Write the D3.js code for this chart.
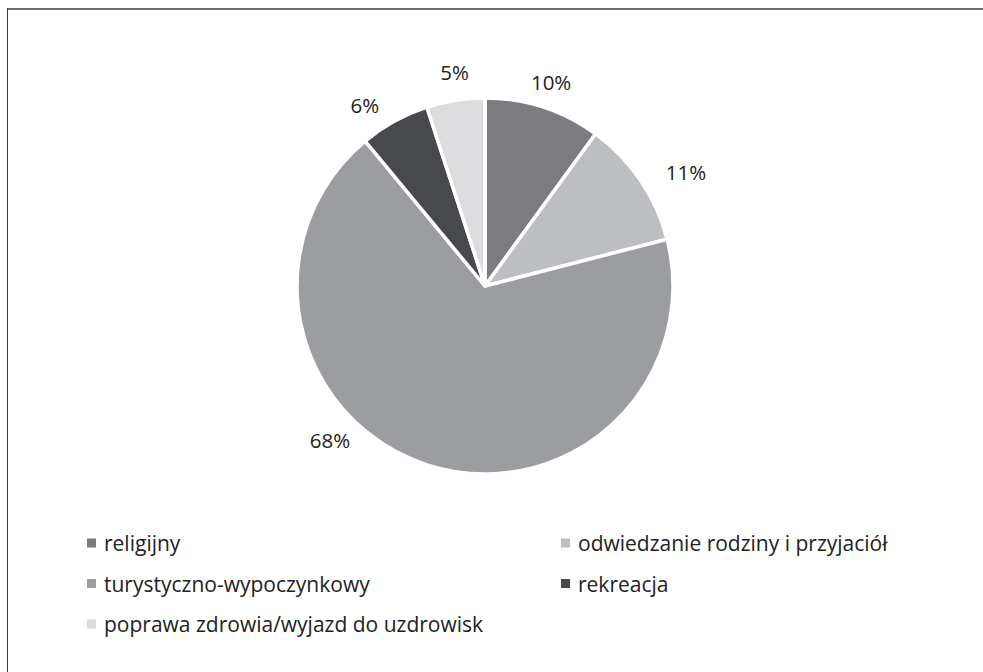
<!DOCTYPE html>
<html lang="pl">
<head>
<meta charset="UTF-8" />
<title>Cele wyjazdów</title>
<script src="https://d3js.org/d3.v7.min.js"></script>
<style>
	body { margin: 0; background: #fff; }
	svg { display: block; font-family: "Open Sans", sans-serif; }
</style>
</head>
<body>
<svg id="chart" width="983" height="672"></svg>
<script>
	// data
	const categories = [
		"religijny",
		"odwiedzanie rodziny i przyjaciół",
		"turystyczno-wypoczynkowy",
		"rekreacja",
		"poprawa zdrowia/wyjazd do uzdrowisk",
	];
	const values = [10, 11, 68, 6, 5];
	const colors = ["#7c7c80", "#bdbec1", "#9c9da1", "#48494c", "#dcdcde"];

	// small nudges for the data labels (excel style placement)
	const labelNudge = [[0, 0], [24, 6], [-89, -50], [-17, 7], [3, -3]];

	const width = 983, height = 672;
	const cx = 485, cy = 286, radius = 188;

	const svg = d3.select("#chart");

	// frame
	svg.append("line").attr("x1", 7).attr("x2", width).attr("y1", 9).attr("y2", 9)
		.attr("stroke", "#6e6e6e").attr("stroke-width", 2);
	svg.append("line").attr("x1", 7.5).attr("x2", 7.5).attr("y1", 8).attr("y2", height)
		.attr("stroke", "#3a3a3a").attr("stroke-width", 1);

	const pie = d3.pie().sort(null).value(d => d);
	const arcs = pie(values);
	const arc = d3.arc().innerRadius(0).outerRadius(radius);
	const labelArc = d3.arc().innerRadius(radius + 26).outerRadius(radius + 26);

	const g = svg.append("g").attr("transform", `translate(${cx},${cy})`);

	g.selectAll("path")
		.data(arcs)
		.join("path")
		.attr("d", arc)
		.attr("fill", (d, i) => colors[i])
		.attr("stroke", "#fff")
		.attr("stroke-width", 3.5)
		.attr("stroke-linejoin", "round");

	g.selectAll("text.lbl")
		.data(arcs)
		.join("text")
		.attr("class", "lbl")
		.attr("x", (d, i) => labelArc.centroid(d)[0] + labelNudge[i][0])
		.attr("y", (d, i) => labelArc.centroid(d)[1] + labelNudge[i][1])
		.attr("text-anchor", "middle")
		.attr("dominant-baseline", "central")
		.attr("font-size", 20.5)
		.attr("fill", "#222")
		.text(d => d.data + "%");

	// legend, two columns
	const legX = d3.scaleOrdinal().domain([0, 1]).range([87, 561]);
	const legY = d3.scaleLinear().domain([0, 1]).range([543, 583.5]);

	const leg = svg.selectAll("g.leg")
		.data(categories)
		.join("g")
		.attr("class", "leg")
		.attr("transform", (d, i) => `translate(${legX(i % 2)},${legY(Math.floor(i / 2))})`);

	leg.append("rect")
		.attr("x", 0).attr("y", -4.5)
		.attr("width", 9).attr("height", 9)
		.attr("fill", (d, i) => colors[i]);

	leg.append("text")
		.attr("x", 17)
		.attr("y", 0)
		.attr("dominant-baseline", "central")
		.attr("font-size", 21)
		.attr("fill", "#222")
		.text(d => d);
</script>
</body>
</html>
